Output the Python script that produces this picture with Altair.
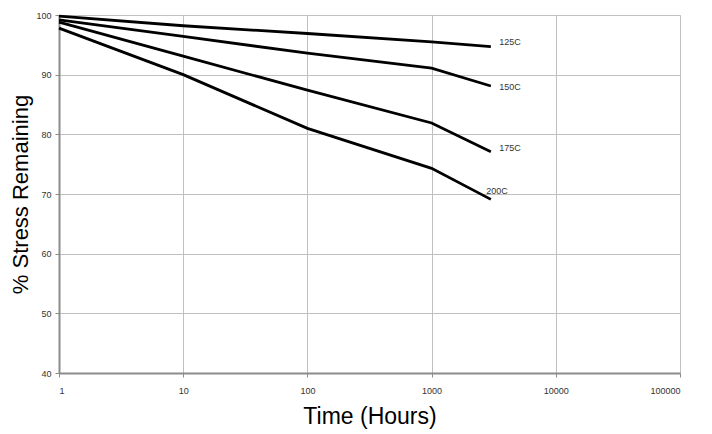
import altair as alt
import pandas as pd

hours = [1, 10, 100, 1000, 3000]
s125 = [99.8, 98.2, 96.9, 95.5, 94.7]
s150 = [99.2, 96.4, 93.6, 91.1, 88.1]
s175 = [98.8, 93.1, 87.4, 81.9, 77.1]
s200 = [97.8, 90.0, 81.0, 74.3, 69.1]
series_names = ["125C", "150C", "175C", "200C"]
label_x = [3500, 3500, 3500, 2750]
label_y = [95.4, 87.9, 77.7, 70.5]
x_ticks = [1, 10, 100, 1000, 10000, 100000]
y_ticks = [40, 50, 60, 70, 80, 90, 100]

rows = []
for name, vals in zip(series_names, [s125, s150, s175, s200]):
    for h, v in zip(hours, vals):
        rows.append({"series": name, "hours": h, "stress": v})
df = pd.DataFrame(rows)
lab = pd.DataFrame({"series": series_names, "hours": label_x, "stress": label_y})

xscale = alt.Scale(type="log", domain=[1, 100000])
yscale = alt.Scale(domain=[40, 100])

xaxis = alt.Axis(values=x_ticks, format="d", title="Time (Hours)", grid=True,
                 gridColor="#c0c0c0", gridWidth=1, domainColor="#8c8c8c", domainWidth=2,
                 tickColor="#8c8c8c", tickSize=4, labelFont="Liberation Sans", labelFontSize=9,
                 labelColor="#333333", labelPadding=9, titleFont="Liberation Sans",
                 titleFontSize=23, titleFontWeight="normal", titleColor="#000000", titlePadding=10)
yaxis = alt.Axis(values=y_ticks, title="% Stress Remaining", grid=True,
                 gridColor="#c0c0c0", gridWidth=1, domainColor="#8c8c8c", domainWidth=2,
                 tickColor="#8c8c8c", tickSize=4, labelFont="Liberation Sans", labelFontSize=9,
                 labelColor="#333333", labelPadding=4, titleFont="Liberation Sans",
                 titleFontSize=22, titleFontWeight="normal", titleColor="#000000", titlePadding=3)

lines = alt.Chart(df).mark_line(color="black", strokeWidth=2.8).encode(
    x=alt.X("hours:Q", scale=xscale, axis=xaxis),
    y=alt.Y("stress:Q", scale=yscale, axis=yaxis),
    detail="series:N",
)
texts = alt.Chart(lab).mark_text(align="left", baseline="middle", font="Liberation Sans",
                                 fontSize=9, color="#333333").encode(
    x=alt.X("hours:Q", scale=xscale),
    y=alt.Y("stress:Q", scale=yscale),
    text="series:N",
)

chart = (lines + texts).properties(
    width=621, height=358,
    autosize=alt.AutoSizeParams(type="none"),
    padding={"left": 51, "top": 7, "right": 24, "bottom": 60},
).configure_view(stroke="#a0a0a0", strokeWidth=2).configure(background="white")

chart.save("out.html", embed_options={"renderer": "svg", "actions": False})
